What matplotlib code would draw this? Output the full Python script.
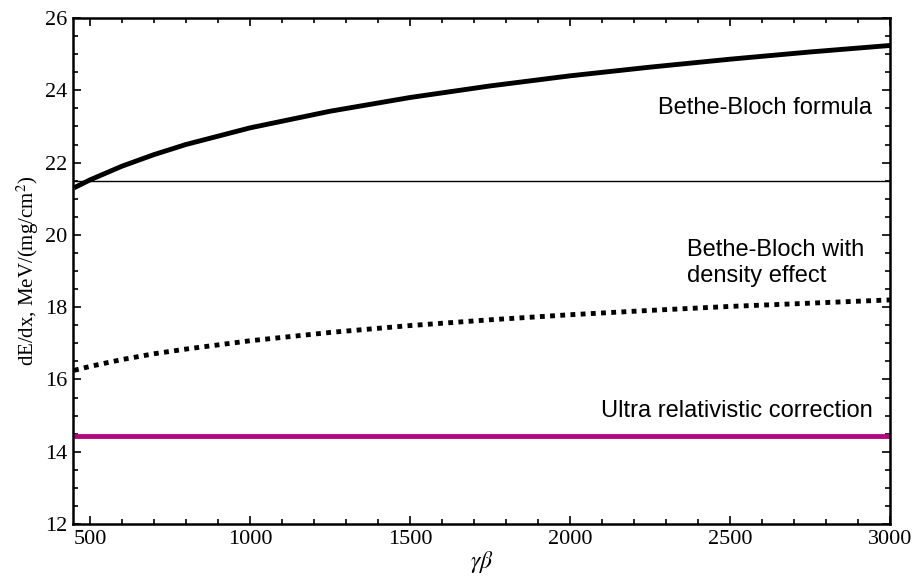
import matplotlib
matplotlib.use("Agg")
from matplotlib import pyplot as plt
from matplotlib.ticker import MultipleLocator
import numpy as np

plt.rcParams['mathtext.fontset'] = 'stix'

# gamma*beta sample points
gb = np.array([450, 500, 600, 700, 800, 1000, 1250, 1500, 1750, 2000, 2250, 2500, 2750, 3000])

# dE/dx, MeV/(mg/cm^2)
bethe_bloch = np.array([21.30, 21.52, 21.90, 22.22, 22.50, 22.96, 23.42, 23.80,
                        24.12, 24.40, 24.64, 24.86, 25.06, 25.24])
density_effect = np.array([16.25, 16.36, 16.55, 16.71, 16.84, 17.07, 17.30, 17.49,
                           17.65, 17.79, 17.91, 18.02, 18.11, 18.20])
plateau_level = 21.5
ultra_rel = 14.43

serif = 'Liberation Serif'
sans = 'Liberation Sans'

fig = plt.figure(figsize=(9.14, 5.86), dpi=100)
ax = fig.add_axes([73 / 914, 1 - 524 / 586, (890 - 73) / 914, (524 - 18) / 586])

ax.plot(gb, bethe_bloch, color='black', lw=3.5, solid_capstyle='butt')
ax.axhline(plateau_level, color='black', lw=1)
ax.plot(gb, density_effect, color='black', lw=3.5, linestyle=(0, (1, 1.1)))
ax.axhline(ultra_rel, color='#B2087F', lw=3.5)

ax.text(2944, 23.5, 'Bethe-Bloch formula', family=sans, fontsize=17,
        ha='right', va='center')
ax.text(2366, 19.22, 'Bethe-Bloch with\ndensity effect', family=sans, fontsize=17,
        ha='left', va='center', linespacing=1.2)
ax.text(2947, 15.14, 'Ultra relativistic correction', family=sans, fontsize=17,
        ha='right', va='center')

ax.set_xlim(447, 3000)
ax.set_ylim(12, 26)
ax.xaxis.set_major_locator(MultipleLocator(500))
ax.xaxis.set_minor_locator(MultipleLocator(100))
ax.yaxis.set_major_locator(MultipleLocator(2))
ax.yaxis.set_minor_locator(MultipleLocator(0.5))
ax.tick_params(which='both', direction='in', top=True, right=True, width=1.2)
ax.tick_params(which='major', length=6, labelsize=16, pad=4)
ax.tick_params(which='minor', length=3.5)
for lab in ax.get_xticklabels() + ax.get_yticklabels():
    lab.set_family(serif)
for s in ax.spines.values():
    s.set_linewidth(1.8)

ax.set_xlabel(r'$\gamma\beta$', fontsize=17, labelpad=0)
ax.set_ylabel('dE/dx, MeV/(mg/cm$^2$)', family=serif, fontsize=15, labelpad=3)

fig.savefig('out.png', dpi=100)
